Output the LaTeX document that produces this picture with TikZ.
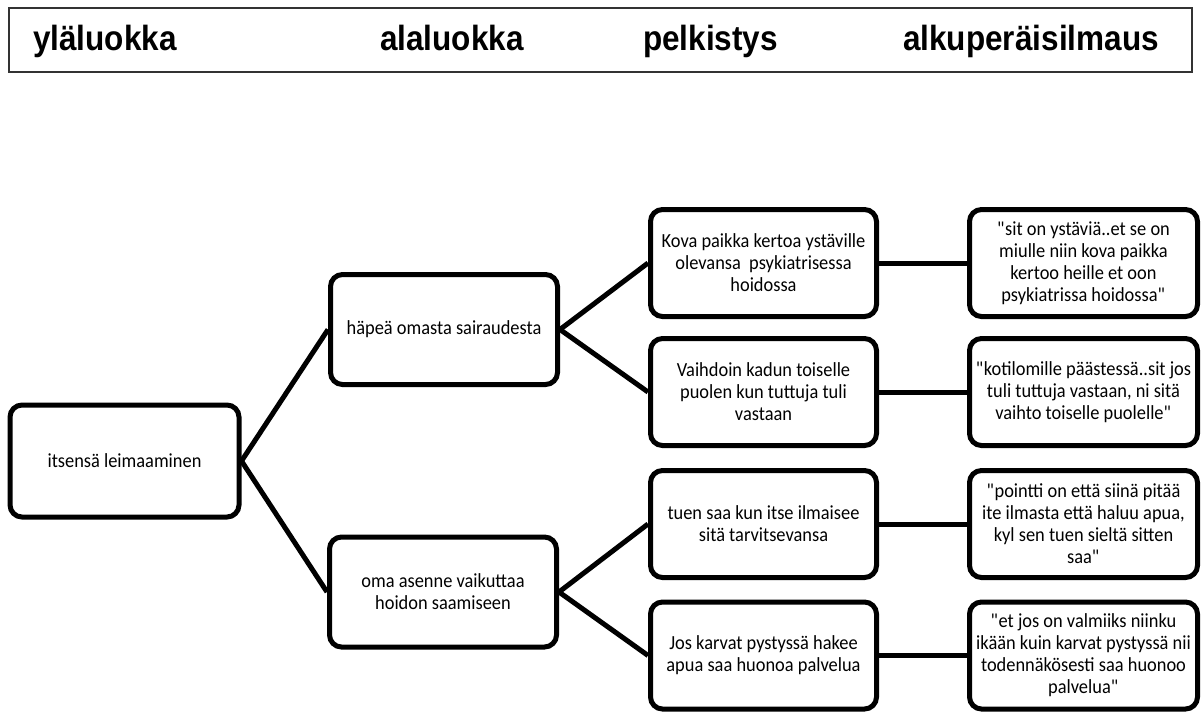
\documentclass[tikz,border=0pt]{standalone}
\usepackage{fontspec}
\setmainfont{Carlito}
\newfontfamily\bodyfont{Carlito}[FakeStretch=0.92]
\newfontfamily\hdrfont{Liberation Sans}[FakeStretch=0.9]
\def\dq{\XeTeXglyph\XeTeXcharglyph"22 }
\begin{document}
\begin{tikzpicture}[x=1pt,y=-1pt,
  hdr/.style={font=\hdrfont\bfseries\fontsize{35}{38}\selectfont, anchor=base west, inner sep=0pt},
  box/.style={draw, line width=5pt, rounded corners=12pt, inner sep=0pt, align=center,
    font=\bodyfont\fontsize{20}{22}\selectfont, fill=white},
  lvlA/.style={box, minimum width=229pt, minimum height=112pt},
  lvlB/.style={box, minimum width=227pt, minimum height=110pt},
  lvlC/.style={box, minimum width=226pt, minimum height=107pt},
  lvlD/.style={box, minimum width=228pt, minimum height=107pt},
  conn/.style={line width=5pt}]
\useasboundingbox (0,0) rectangle (1203,713);
\fill[white] (0,0) rectangle (1203,713);
% header
\draw[line width=1.2pt, draw=black!80] (9,8) rectangle (1192,72);
\node[hdr] (h1) at (33,50) {yläluokka};
\node[hdr] (h2) at (380,50) {alaluokka};
\node[hdr] (h3) at (643,50) {pelkistys};
\node[hdr] (h4) at (903,50) {alkuperäisilmaus};
% level 1
\node[lvlA] (a) at (124.5,461) {itsensä leimaaminen};
% level 2
\node[lvlB] (b1) at (444,329.5) {häpeä omasta sairaudesta};
\node[lvlB] (b2) at (443,592) {oma asenne vaikuttaa\\hoidon saamiseen};
% level 3
\node[lvlC] (c1) at (763.5,263) {Kova paikka kertoa ystäville\\olevansa~ psykiatrisessa\\hoidossa};
\node[lvlC] (c2) at (763.5,392) {Vaihdoin kadun toiselle\\puolen kun tuttuja tuli\\vastaan};
\node[lvlC] (c3) at (763.5,524) {tuen saa kun itse ilmaisee\\sitä tarvitsevansa};
\node[lvlC] (c4) at (763.5,655.5) {Jos karvat pystyssä hakee\\apua saa huonoa palvelua};
% level 4
\node[lvlD] (d1) at (1083.5,263) {\dq sit on ystäviä..et se on\\miulle niin kova paikka\\kertoo heille et oon\\psykiatrissa hoidossa\dq};
\node[lvlD] (d2) at (1083.5,392) {\dq kotilomille päästessä..sit jos\\tuli tuttuja vastaan, ni sitä\\vaihto toiselle puolelle\dq};
\node[lvlD] (d3) at (1083.5,524) {\dq pointti on että siinä pitää\\ite ilmasta että haluu apua,\\kyl sen tuen sieltä sitten\\saa\dq};
\node[lvlD] (d4) at (1083.5,655.5) {\dq et jos on valmiiks niinku\\ikään kuin karvat pystyssä nii\\todennäkösesti saa huonoo\\palvelua\dq};
% connectors
\draw[conn] (a.east) -- (b1.west);
\draw[conn] (a.east) -- (b2.west);
\draw[conn] (b1.east) -- (c1.west);
\draw[conn] (b1.east) -- (c2.west);
\draw[conn] (b2.east) -- (c3.west);
\draw[conn] (b2.east) -- (c4.west);
\draw[conn] (c1.east) -- (d1.west);
\draw[conn] (c2.east) -- (d2.west);
\draw[conn] (c3.east) -- (d3.west);
\draw[conn] (c4.east) -- (d4.west);
\end{tikzpicture}
\end{document}
